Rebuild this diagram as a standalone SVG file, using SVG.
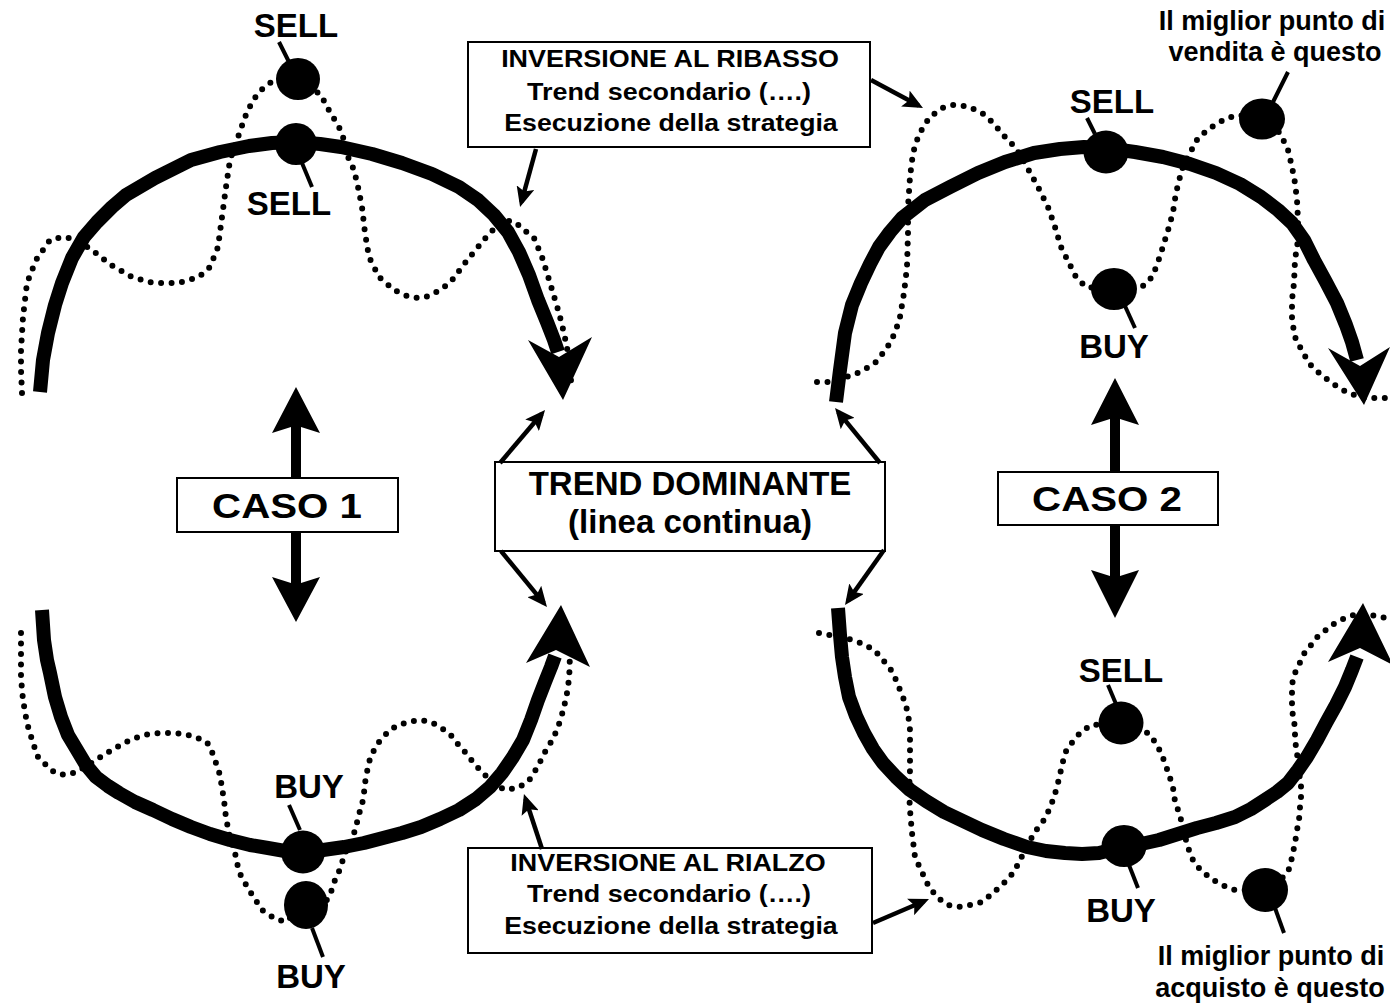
<svg xmlns="http://www.w3.org/2000/svg" width="1390" height="1005" viewBox="0 0 1390 1005">
<style>
.thick{fill:none;stroke:#000;stroke-width:14;stroke-linejoin:round;stroke-linecap:butt}
.dot{fill:none;stroke:#000;stroke-width:6;stroke-linecap:round;stroke-linejoin:round;stroke-dasharray:0 10.5}
.box{fill:#fff;stroke:#000;stroke-width:2}
.t{font-family:"Liberation Sans",Arial,Helvetica,sans-serif;font-weight:bold;fill:#000;text-anchor:middle}
.lbl{font-size:33px}
.note{font-size:27px}
.bt{font-size:23px}
.caso{font-size:35px}
.lead{stroke:#000;stroke-width:4;fill:none}
.conn{stroke:#000;stroke-width:4.5;fill:none;marker-end:url(#ah)}
.pt{fill:#000}
</style>
<defs>
<marker id="ah" markerUnits="userSpaceOnUse" markerWidth="20" markerHeight="18" refX="15" refY="9" orient="auto" viewBox="0 0 20 18">
<path d="M0,0 L20,9 L0,18 L4,9 z" fill="#000"/>
</marker>
</defs>
<rect width="1390" height="1005" fill="#fff"/>

<g id="case1-top">
<polyline class="dot" points="22,393 21,370 21,350 23,317 27,283 36,260 50,240 63,237 75,239 92,250 111,265 132,277 153,283 178,283 199,277 210,267 218,247 222,217 226,187 230,160 237,140 245,117 253,100 264,87 276,79 298,79 321,95 327,107 333,117 339,127 343,137 348,157 354,170 358,187 362,207 365,233 369,257 379,277 394,290 409,297 421,298 432,295 450,283 465,263 478,247 488,235 503,220 515,222 524,230 534,238 542,257 547,273 553,293 559,313 564,333 568,353 570,373 572,388"/>
<polyline class="thick" points="40,392 43,360 48,333 55,305 62,283 72,258 84,237 97,222 112,207 126,195 155,178 191,160 220,152 249,146 272,143 296,142 320,144 341,147 372,154 402,163 432,174 459,187 478,200 494,215 508,232 519,252 529,275 538,300 547,322 554,340 558,352"/>
<polygon class="pt" points="528,340 559,357 592,337 563,400"/>
<ellipse class="pt" cx="298" cy="79" rx="22" ry="21"/>
<ellipse class="pt" cx="296" cy="144" rx="21" ry="21"/>
<line class="lead" x1="279" y1="42" x2="289" y2="62"/>
<line class="lead" x1="302" y1="163" x2="312" y2="187"/>
<text class="t lbl" x="296" y="37">SELL</text>
<text class="t lbl" x="289" y="215">SELL</text>
</g>

<g id="case1-bottom">
<polyline class="dot" points="21,633 21,657 21,678 23,700 27,723 33,743 38,757 46,765 55,773 65,775 77,772 96,760 107,753 117,747 126,742 138,737 149,734 161,733 172,733 184,734 195,737 207,742 212,752 216,763 220,775 222,788 224,800 226,818 230,838 235,853 239,872 245,883 251,893 262,910 274,918 285,922 306,905 327,900 331,892 335,880 341,867 344,855 350,843 356,828 358,817 362,805 364,793 365,783 367,772 369,762 373,752 379,742 387,733 396,726 408,722 419,720 431,722 440,727 450,734 457,743 465,752 473,762 480,770 488,778 496,785 505,790 517,788 528,782 534,773 540,762 545,752 551,742 557,730 561,718 564,707 566,698 568,688 569,677 570,665 569,653"/>
<polyline class="thick" points="42,610 44,640 47,660 50,673 55,697 61,717 68,735 77,750 86,765 96,777 108,786 119,793 135,802 153,810 172,819 191,827 210,834 230,840 250,845 268,848 285,851 302,852 323,850 344,847 364,843 383,838 402,833 421,827 440,819 459,810 476,799 490,787 502,773 513,757 523,740 531,720 538,700 545,682 551,667 555,656"/>
<polygon class="pt" points="526,663 556,650 590,667 561,605"/>
<ellipse class="pt" cx="303" cy="852" rx="22" ry="21.5"/>
<ellipse class="pt" cx="306" cy="905" rx="22" ry="24"/>
<line class="lead" x1="289" y1="805" x2="300" y2="830"/>
<line class="lead" x1="312" y1="928" x2="323" y2="957"/>
<text class="t lbl" x="309" y="798">BUY</text>
<text class="t lbl" x="311" y="988">BUY</text>
</g>

<g id="case2-top">
<polyline class="dot" points="817,382 828,382 842,378 853,375 864,370 876,362 887,348 895,333 900,317 904,293 907,267 908,233 908,207 910,177 913,153 917,140 923,127 930,117 942,108 953,105 965,106 976,110 985,115 993,123 1006,138 1016,148 1027,167 1038,187 1048,207 1055,227 1061,247 1069,263 1076,277 1086,287 1114,290 1142,287 1152,277 1157,265 1161,253 1165,240 1169,227 1173,212 1176,193 1180,177 1184,163 1190,153 1197,140 1207,130 1218,123 1227,118 1239,115 1262,119 1280,133 1288,150 1292,167 1295,183 1297,200 1298,220 1298,240 1295,260 1294,283 1292,300 1292,320 1295,337 1303,353 1312,367 1324,377 1335,385 1348,393 1364,398 1375,398 1388,398"/>
<polyline class="thick" points="836,402 840,370 845,333 852,305 861,283 870,264 879,247 890,232 902,218 925,200 950,187 978,173 1005,162 1034,153 1060,149 1084,147 1106,148 1135,152 1163,157 1190,164 1216,173 1240,184 1261,197 1278,210 1292,223 1304,240 1314,260 1326,282 1337,303 1346,325 1352,342 1357,360"/>
<polygon class="pt" points="1328,348 1360,366 1390,347 1364,405"/>
<ellipse class="pt" cx="1106" cy="152" rx="22.5" ry="21.5"/>
<ellipse class="pt" cx="1114" cy="289" rx="23" ry="21"/>
<ellipse class="pt" cx="1262" cy="119" rx="23" ry="20.5"/>
<line class="lead" x1="1087" y1="118" x2="1095" y2="134"/>
<line class="lead" x1="1125" y1="306" x2="1135" y2="328"/>
<line class="lead" x1="1273" y1="102" x2="1288" y2="72"/>
<text class="t lbl" x="1112" y="113">SELL</text>
<text class="t lbl" x="1114" y="358">BUY</text>
<text class="t note" x="1272" y="30">Il miglior punto di</text>
<text class="t note" x="1275" y="61">vendita è questo</text>
</g>

<g id="case2-bottom">
<polyline class="dot" points="819,633 830,635 843,637 855,641 866,645 876,652 883,660 891,670 896,680 900,690 904,700 908,713 910,730 910,750 910,770 909,790 910,810 912,833 915,857 921,870 929,887 938,898 948,905 959,907 970,905 982,902 993,893 1004,883 1014,872 1021,858 1027,847 1034,833 1044,820 1050,808 1054,797 1057,787 1061,770 1065,753 1070,745 1080,733 1091,725 1121,723 1148,733 1156,743 1161,753 1165,763 1169,775 1173,787 1174,797 1178,810 1182,823 1186,840 1191,857 1199,868 1210,878 1222,885 1235,890 1265,890 1286,875 1290,867 1292,857 1295,843 1297,830 1299,820 1300,807 1301,797 1301,783 1299,773 1297,753 1295,740 1295,727 1293,717 1292,707 1292,697 1292,685 1294,675 1299,665 1303,655 1311,645 1316,638 1326,630 1335,623 1345,618 1354,615 1365,613 1379,617 1390,618"/>
<polyline class="thick" points="838,608 840,635 842,657 845,677 849,697 856,716 864,733 873,749 883,763 896,777 910,790 926,801 944,812 963,821 982,830 1004,839 1027,847 1046,851 1065,853 1082,854 1099,853 1123,847 1141,844 1159,840 1178,834 1197,828 1216,823 1235,817 1251,809 1265,800 1277,792 1288,783 1298,770 1307,757 1317,740 1326,723 1336,705 1345,687 1352,670 1357,657"/>
<polygon class="pt" points="1328,662 1360,648 1393,665 1363,603"/>
<ellipse class="pt" cx="1121" cy="723" rx="22.5" ry="21.5"/>
<ellipse class="pt" cx="1124" cy="846" rx="22.5" ry="21"/>
<ellipse class="pt" cx="1265" cy="890" rx="23" ry="22"/>
<line class="lead" x1="1108" y1="685" x2="1116" y2="704"/>
<line class="lead" x1="1129" y1="865" x2="1138" y2="888"/>
<line class="lead" x1="1275" y1="908" x2="1284" y2="933"/>
<text class="t lbl" x="1121" y="682">SELL</text>
<text class="t lbl" x="1121" y="922">BUY</text>
<text class="t note" x="1271" y="965">Il miglior punto di</text>
<text class="t note" x="1270" y="997">acquisto è questo</text>
</g>

<g id="caso1">
<polygon class="pt" points="296,387 320,433 301,427 301,478 291,478 291,427 272,433"/>
<polygon class="pt" points="291,532 301,532 301,583 320,577 296,622 272,577 291,583"/>
<rect class="box" x="177" y="478" width="221" height="54"/>
<text class="t caso" transform="translate(287,518) scale(1.15,1)">CASO 1</text>
</g>

<g id="caso2">
<polygon class="pt" points="1115,378 1139,425 1120,419 1120,472 1110,472 1110,419 1091,425"/>
<polygon class="pt" points="1110,525 1120,525 1120,576 1139,570 1115,618 1091,570 1110,576"/>
<rect class="box" x="998" y="472" width="220" height="53"/>
<text class="t caso" transform="translate(1107,511) scale(1.15,1)">CASO 2</text>
</g>

<g id="trend-dominante">
<rect class="box" x="495" y="462" width="390" height="89"/>
<text class="t" x="690" y="495" font-size="33">TREND DOMINANTE</text>
<text class="t" x="690" y="533" font-size="33">(linea continua)</text>
</g>

<g id="inversione-ribasso">
<rect class="box" x="468" y="42" width="402" height="105"/>
<text class="t bt" transform="translate(670,67) scale(1.17,1)">INVERSIONE AL RIBASSO</text>
<text class="t bt" transform="translate(669,100) scale(1.17,1)">Trend secondario (….)</text>
<text class="t bt" transform="translate(671,131) scale(1.16,1)">Esecuzione della strategia</text>
</g>

<g id="inversione-rialzo">
<rect class="box" x="468" y="848" width="404" height="105"/>
<text class="t bt" transform="translate(668,871) scale(1.17,1)">INVERSIONE AL RIALZO</text>
<text class="t bt" transform="translate(669,902) scale(1.17,1)">Trend secondario (….)</text>
<text class="t bt" transform="translate(671,934) scale(1.16,1)">Esecuzione della strategia</text>
</g>

<g id="connectors">
<line class="conn" x1="536" y1="149" x2="521.4" y2="202.2"/>
<line class="conn" x1="871" y1="80" x2="918.6" y2="105.6"/>
<line class="conn" x1="500" y1="463" x2="541.8" y2="413.8"/>
<line class="conn" x1="880" y1="463" x2="838.2" y2="411.9"/>
<line class="conn" x1="501" y1="551" x2="543.8" y2="603.1"/>
<line class="conn" x1="884" y1="550" x2="847.9" y2="600.9"/>
<line class="conn" x1="542" y1="849" x2="525.5" y2="798.8"/>
<line class="conn" x1="873" y1="923" x2="924.4" y2="901"/>
</g>
</svg>
